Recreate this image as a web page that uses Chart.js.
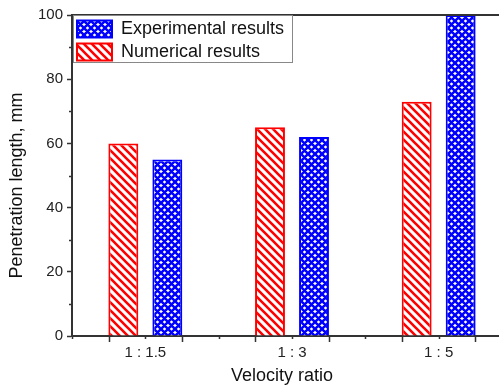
<!DOCTYPE html>
<html>
<head>
<meta charset="utf-8">
<script src="https://cdn.jsdelivr.net/npm/chart.js@4"></script>
<style>
  html, body { margin:0; padding:0; background:#fff; overflow:hidden; }
  canvas { display:block; }
</style>
</head>
<body>
<canvas id="chart" width="530" height="389"></canvas>
<script>
const $ = (id) => document.getElementById(id);

const ratios = ['1 : 1.5', '1 : 3', '1 : 5'];
const numerical = [60, 65, 73];
const experimental = [55, 62, 100];
const yMinorTicks = [10, 30, 50, 70, 90];

const FONT = "'Liberation Sans', Arial, sans-serif";
const AXIS = '#333';
const NBSP4 = '\u00a0\u00a0\u00a0\u00a0';

const ctx = $('chart').getContext('2d');

// small repeating tiles for the hatched fills
function hatch(size, color, lw, dirs){
  const c = document.createElement('canvas');
  c.width = c.height = size;
  const g = c.getContext('2d');
  g.fillStyle = '#fff';
  g.fillRect(0, 0, size, size);
  g.strokeStyle = color;
  g.lineWidth = lw;
  g.beginPath();
  for(const o of [-size, 0, size]){
    if(dirs.includes('\\')){ g.moveTo(o-1, -1); g.lineTo(o+size+1, size+1); }
    if(dirs.includes('/')){ g.moveTo(o-1, size+1); g.lineTo(o+size+1, -1); }
  }
  g.stroke();
  return ctx.createPattern(c, 'repeat');
}

const redHatch = hatch(8, '#ff0000', 2.6, '\\');
const blueCross = hatch(7, '#0000ff', 2.5, '\\/');

// top frame line, minor ticks, x ticks and the legend outline
const frame = {
  id: 'frame',
  afterLayout(chart){
    // legend sits inside the plot, below the top frame line
    const lg = chart.legend;
    const dy = chart.chartArea.top - lg.top;
    lg.top += dy;
    lg.bottom += dy;
  },
  afterDraw(chart){
    const {ctx: c, chartArea: a, scales: {x, y}} = chart;
    c.save();
    c.strokeStyle = AXIS;
    c.lineWidth = 2;
    c.beginPath();
    c.moveTo(a.left - 1, a.top);
    c.lineTo(chart.width, a.top);
    c.stroke();

    c.lineWidth = 1.5;
    c.beginPath();
    for(const v of yMinorTicks){
      const py = Math.round(y.getPixelForValue(v)) + 0.5;
      c.moveTo(a.left - 3, py); c.lineTo(a.left, py);
    }
    ratios.forEach((_, i) => {
      for(const d of [-0.25, 0.25]){
        const px = Math.round(x.getPixelForValue(i + d)) + 0.5;
        c.moveTo(px, a.bottom); c.lineTo(px, a.bottom + 6);
      }
      for(const d of [-0.5, 0, 0.5]){
        const px = Math.round(x.getPixelForValue(i + d)) + 0.5;
        c.moveTo(px, a.bottom); c.lineTo(px, a.bottom + 3);
      }
    });
    c.stroke();

    const boxes = chart.legend.legendHitBoxes;
    if(boxes && boxes.length){
      const right = Math.max(...boxes.map(b => b.left + b.width)) + 8;
      const last = boxes[boxes.length - 1];
      const bottom = last.top + last.height + 1;
      c.strokeStyle = '#888';
      c.lineWidth = 1;
      c.strokeRect(a.left + 1.5, a.top + 0.5, Math.round(right - a.left) - 1, Math.round(bottom - a.top));
    }
    c.restore();
  }
};

new Chart($('chart'), {
  type: 'bar',
  data: {
    labels: ratios,
    datasets: [
      { label: 'Numerical results', data: numerical, backgroundColor: redHatch, borderColor: '#ff0000', borderWidth: 2 },
      { label: 'Experimental results', data: experimental, backgroundColor: blueCross, borderColor: '#0000ff', borderWidth: 2 },
    ]
  },
  options: {
    responsive: false,
    animation: false,
    devicePixelRatio: 1,
    layout: { padding: { top: 15, right: 18, left: 0, bottom: 0 } },
    datasets: { bar: { categoryPercentage: 0.6, barPercentage: 0.68 } },
    plugins: {
      legend: {
        position: 'chartArea',
        align: 'start',
        reverse: true,
        labels: { boxWidth: 35, boxHeight: 17, padding: 5, color: '#111', font: { family: FONT, size: 18 } }
      },
      tooltip: { enabled: false }
    },
    scales: {
      x: {
        grid: { display: false, tickLength: 5 },
        border: { color: AXIS, width: 2 },
        ticks: { color: '#222', font: { family: FONT, size: 15 }, padding: 3, maxRotation: 0 },
        title: { display: true, text: 'Velocity ratio' + NBSP4, color: '#111', font: { family: FONT, size: 18 }, padding: { top: 0, bottom: 2 } },
        afterFit: (s) => { s.height = 53; }
      },
      y: {
        min: 0,
        max: 100,
        grid: { drawOnChartArea: false, tickLength: 5, tickColor: AXIS, tickWidth: 1.5 },
        border: { color: AXIS, width: 2 },
        ticks: { stepSize: 20, color: '#222', font: { family: FONT, size: 15 }, padding: 4 },
        title: { display: true, text: 'Penetration length, mm' + NBSP4, color: '#111', font: { family: FONT, size: 18 }, padding: { top: 6, bottom: 0 } },
        afterFit: (s) => { s.width = 72; }
      }
    }
  },
  plugins: [frame]
});
</script>
</body>
</html>
